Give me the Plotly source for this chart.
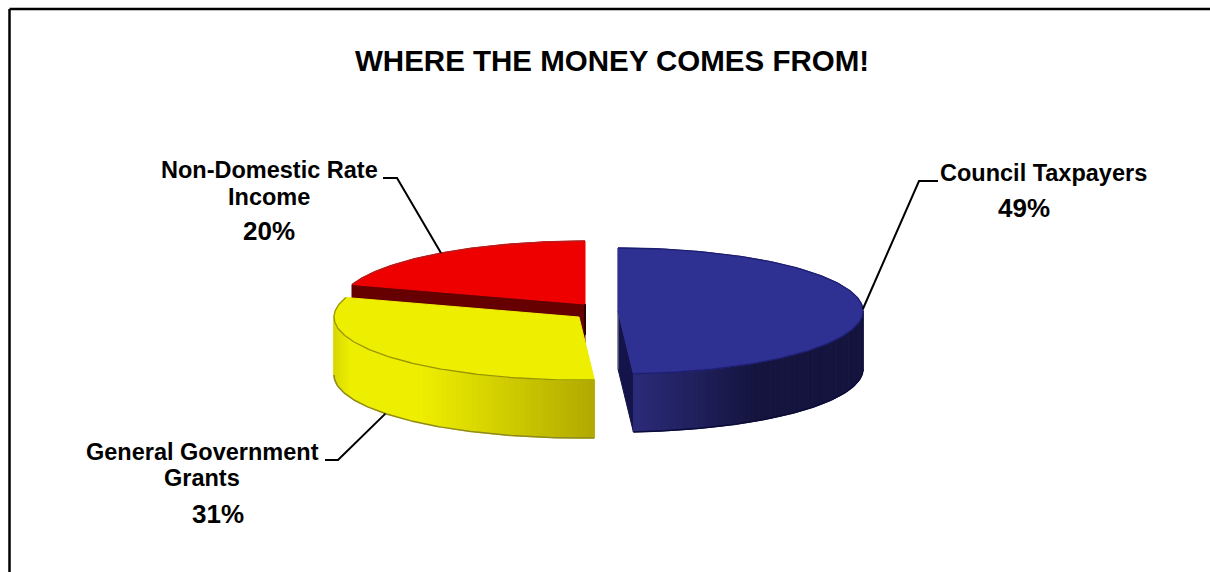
import numpy as np
import plotly.graph_objects as go

# Funding shares, in drawing order clockwise from twelve o'clock
categories = ["Council Taxpayers", "General Government Grants", "Non-Domestic Rate Income"]
shares = [49, 31, 20]
top_colors = ["#2E3192", "#EEEE00", "#EE0000"]
cut_colors = ["#14144A", "#8A8A00", "#660000"]

title_text = "WHERE THE MONEY COMES FROM!"
label_lines = [["Council Taxpayers"], ["General Government", "Grants"], ["Non-Domestic Rate", "Income"]]

# Tilted-disc projection, in page pixels
RX, RY, DEPTH = 245, 63, 58
CENTERS = [(618, 311), (579, 317), (585, 304)]

# Label placement: text line centres, percent centre, leader elbow and tail
LINE_POS = [[(1043, 173)], [(202, 452), (202, 478)], [(269, 170), (269, 197)]]
PCT_POS = [(1024, 208), (218, 514), (269, 231)]
ELBOW = [(919, 181), (338, 460), (397, 178)]
TAIL = [(938, 181), (325, 460), (383, 178)]
LEADER_ON_SIDE = [False, True, False]

fractions = np.array(shares) / sum(shares)
ends = np.cumsum(fractions) * 2 * np.pi
starts = ends - fractions * 2 * np.pi


def rim(center, angles, drop=0.0):
    cx, cy = center
    return cx + RX * np.sin(angles), cy - RY * np.cos(angles) + drop


def mix(a, b, t):
    return "#" + "".join(f"{round(x + (y - x) * t):02X}" for x, y in zip(a, b))


def polygon(fig, xs, ys, color, edge=None, width=1):
    fig.add_trace(go.Scatter(
        x=list(xs) + [xs[0]], y=list(ys) + [ys[0]], mode="lines", fill="toself",
        fillcolor=color, line=dict(color=edge or color, width=width),
        hoverinfo="skip", showlegend=False,
    ))


def stroke(fig, xs, ys, color, width):
    fig.add_trace(go.Scatter(
        x=list(xs), y=list(ys), mode="lines", line=dict(color=color, width=width),
        hoverinfo="skip", showlegend=False,
    ))


def side_shade(index, x):
    """Shading of the curved wall, running left to right across the disc."""
    if index == 1:
        if x < 350:
            return mix((216, 216, 0), (238, 238, 0), (x - 333) / 17)
        if x < 420:
            return "#EEEE00"
        return mix((238, 238, 0), (176, 168, 0), min((x - 420) / 177, 1))
    if index == 0:
        return mix((42, 42, 120), (20, 20, 62), min((x - 637) / 120, 1))
    return cut_colors[index]


fig = go.Figure()

# Slices back to front so the nearer ones overlap the red wedge
for i in [2, 1, 0]:
    c = CENTERS[i]
    a0, a1 = starts[i], ends[i]
    arc = np.linspace(a0, a1, 160)

    # Cut face visible on the near side of a slice
    if i == 0:
        ex, ey = rim(c, np.array([a1]))
        polygon(fig, [c[0], ex[0], ex[0], c[0]],
                [c[1], ey[0], ey[0] + DEPTH, c[1] + DEPTH], cut_colors[i])
        stroke(fig, [c[0], c[0]], [c[1] - RY, c[1] + DEPTH], "#8A8AA0", 1)
    if i == 2:
        sx, sy = rim(c, np.array([a0]))
        polygon(fig, [sx[0], c[0], c[0], sx[0]],
                [sy[0], c[1], c[1] + DEPTH, sy[0] + DEPTH], cut_colors[i])
        stroke(fig, [c[0], c[0]], [c[1], c[1] + DEPTH - 27], "#2A0000", 2)

    # Curved wall, only where the rim faces the viewer
    lo, hi = max(a0, np.pi / 2), min(a1, 3 * np.pi / 2)
    if hi > lo:
        cuts = np.linspace(lo, hi, 70)
        for u, v in zip(cuts[:-1], cuts[1:]):
            band = np.linspace(u, v, 4)
            x, y = rim(c, band)
            polygon(fig, list(x) + list(x[::-1]), list(y) + list(y[::-1] + DEPTH),
                    side_shade(i, float(x.mean())))
        x, y = rim(c, np.linspace(lo, hi, 120), DEPTH)
        stroke(fig, x, y, {0: "#0C0C38", 1: "#8F8A20"}.get(i, "#400000"), 1.5)

    # Top face
    x, y = rim(c, arc)
    polygon(fig, [c[0]] + list(x), [c[1]] + list(y), top_colors[i])
    outline = {0: "#1E1E70", 1: "#9A9600", 2: "#B02020"}[i]
    stroke(fig, x, y, outline, 1.3)

# Leader lines run from each slice's mid-angle on the rim
mids = (starts + ends) / 2
for i, mid in enumerate(mids):
    ax, ay = rim(CENTERS[i], np.array([mid]), DEPTH if LEADER_ON_SIDE[i] else 0)
    stroke(fig, [ax[0], ELBOW[i][0], TAIL[i][0]], [ay[0], ELBOW[i][1], TAIL[i][1]], "#000000", 2)

annotations = [dict(x=612, y=60, text=f"<b>{title_text}</b>", font_size=29.5)]
for i, lines in enumerate(label_lines):
    for text, (x, y) in zip(lines, LINE_POS[i]):
        annotations.append(dict(x=x, y=y, text=f"<b>{text}</b>", font_size=23.5))
    px, py = PCT_POS[i]
    annotations.append(dict(x=px, y=py, text=f"<b>{shares[i]}%</b>", font_size=26))
for a in annotations:
    a.update(xref="x", yref="y", showarrow=False, xanchor="center", yanchor="middle",
             font=dict(family="Liberation Sans, Arial, sans-serif", size=a.pop("font_size"), color="#000000"))

# Chart frame: only the top and left edges fall inside the page
frame = [
    dict(type="line", xref="x", yref="y", x0=9.5, x1=1210, y0=9, y1=9, line=dict(color="#000000", width=2.5)),
    dict(type="line", xref="x", yref="y", x0=9.5, x1=9.5, y0=9, y1=572, line=dict(color="#000000", width=2.5)),
]

fig.update_layout(
    width=1210, height=572, margin=dict(l=0, r=0, t=0, b=0),
    paper_bgcolor="#FFFFFF", plot_bgcolor="#FFFFFF", showlegend=False,
    xaxis=dict(range=[0, 1210], visible=False, fixedrange=True),
    yaxis=dict(range=[572, 0], visible=False, fixedrange=True),
    annotations=annotations, shapes=frame,
)

fig.write_html("out.html", config={"displayModeBar": False})
